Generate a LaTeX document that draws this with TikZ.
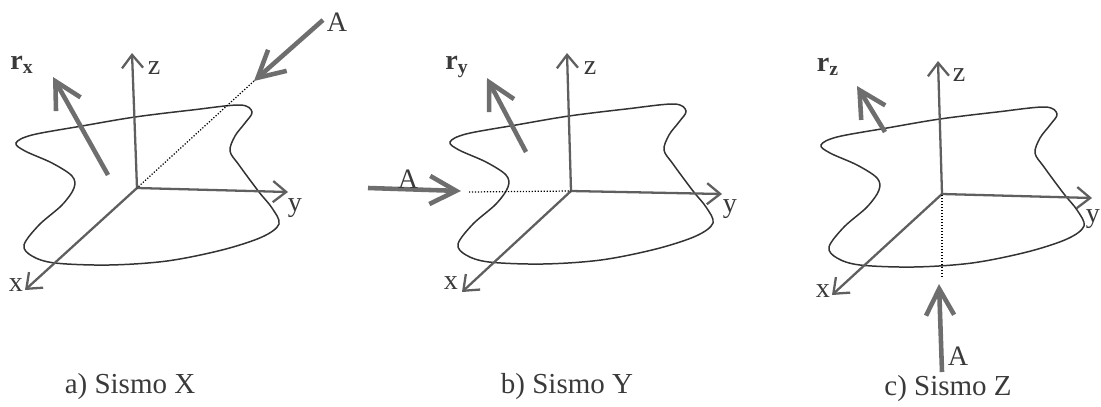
\documentclass[tikz,border=0pt]{standalone}
\usepackage{fontspec}
\setmainfont{Liberation Serif}
\usepackage{xcolor}
\usetikzlibrary{arrows.meta}
\definecolor{ink}{HTML}{3A3A3A}
\definecolor{axisg}{HTML}{5F5F5F}
\definecolor{thickg}{HTML}{6E6E6E}
\tikzset{
  axisline/.style={axisg,line width=1.3pt,-{Straight Barb[length=7.5pt,width=12pt,line width=1.3pt]}},
  heavyline/.style={thickg,line width=2.6pt,-{Straight Barb[length=15pt,width=16pt,line width=2.6pt]}},
  rayline/.style={black,densely dotted,line width=0.7pt},
  outlinecurve/.style={black!80,line width=0.85pt},
  lbl/.style={ink,font=\fontsize{16}{18}\selectfont,inner sep=0pt},
  caplbl/.style={ink,font=\fontsize{16.5}{18}\selectfont,inner sep=0pt},
  planta/.pic={
    \draw[outlinecurve] plot[smooth cycle,tension=0.55] coordinates {
      (115,-80) (103,-87) (55,-82) (-2,-75) (-55,-66) (-105,-57) (-121,-49) (-112,-41)
      (-85,-29) (-65,-16) (-63,-4) (-75,13) (-98,33) (-113,53) (-105,64) (-82,71)
      (-28,73) (30,69) (85,58) (125,45) (142,32) (135,16) (122,0) (102,-27)
      (93,-41) (98,-56) (108,-69)};
  }
}
\begin{document}
\begin{tikzpicture}[x=0.02cm,y=-0.02cm]
\useasboundingbox (0,0) rectangle (1101,406);
% floor outlines
\pic at (137,192) {planta};
\pic at (571,191) {planta};
\pic at (942,194) {planta};
% a) Sismo X
\coordinate (oa) at (137,188);
\coordinate (za) at (132,53);
\coordinate (ya) at (288,192);
\coordinate (xa) at (25,290);
\draw[axisline] (oa) -- (za);
\draw[axisline] (oa) -- (ya);
\draw[axisline] (oa) -- (xa);
\node[lbl] (zlabela) at (154,68) {z};
\node[lbl] (ylabela) at (295,208) {y};
\node[lbl] (xlabela) at (16,285) {x};
\node[lbl] (rlabela) at (22,65) {$\mathbf{r}_{\mathbf{x}}$};
\coordinate (rsa) at (108,175);
\coordinate (rea) at (53,77);
\draw[heavyline] (rsa) -- (rea);
\coordinate (asa) at (323,20);
\coordinate (aea) at (254,81);
\draw[heavyline] (asa) -- (aea);
\draw[rayline] (aea) -- (oa);
\node[lbl] (alabela) at (337,22) {A};
\node[caplbl] (capa) at (130,387) {a) Sismo X};
% b) Sismo Y
\coordinate (ob) at (571,191);
\coordinate (zb) at (567,53);
\coordinate (yb) at (722,194);
\coordinate (xb) at (462,292);
\draw[axisline] (ob) -- (zb);
\draw[axisline] (ob) -- (yb);
\draw[axisline] (ob) -- (xb);
\node[lbl] (zlabelb) at (590,68) {z};
\node[lbl] (ylabelb) at (730,209) {y};
\node[lbl] (xlabelb) at (451,283) {x};
\node[lbl] (rlabelb) at (457,67) {$\mathbf{r}_{\mathbf{y}}$};
\coordinate (rsb) at (526,152);
\coordinate (reb) at (487,78);
\draw[heavyline] (rsb) -- (reb);
\coordinate (asb) at (368,188);
\coordinate (aeb) at (461,191);
\coordinate (rayb) at (469,192);
\draw[heavyline] (asb) -- (aeb);
\draw[rayline] (rayb) -- (ob);
\node[lbl] (alabelb) at (408,179) {A};
\node[caplbl] (capb) at (567,387) {b) Sismo Y};
% c) Sismo Z
\coordinate (oc) at (942,194);
\coordinate (zc) at (938,61);
\coordinate (yc) at (1092,198);
\coordinate (xc) at (832,295);
\draw[axisline] (oc) -- (zc);
\draw[axisline] (oc) -- (yc);
\draw[axisline] (oc) -- (xc);
\node[lbl] (zlabelc) at (959,75) {z};
\node[lbl] (ylabelc) at (1093,219) {y};
\node[lbl] (xlabelc) at (823,291) {x};
\node[lbl] (rlabelc) at (828,67) {$\mathbf{r}_{\mathbf{z}}$};
\coordinate (rsc) at (885,132);
\coordinate (rec) at (857,86);
\draw[heavyline] (rsc) -- (rec);
\coordinate (asc) at (942,372);
\coordinate (aec) at (939,284);
\coordinate (rayc) at (942,277);
\draw[heavyline] (asc) -- (aec);
\draw[rayline] (rayc) -- (oc);
\node[lbl] (alabelc) at (958,356) {A};
\node[caplbl] (capc) at (948,389) {c) Sismo Z};
\end{tikzpicture}
\end{document}
